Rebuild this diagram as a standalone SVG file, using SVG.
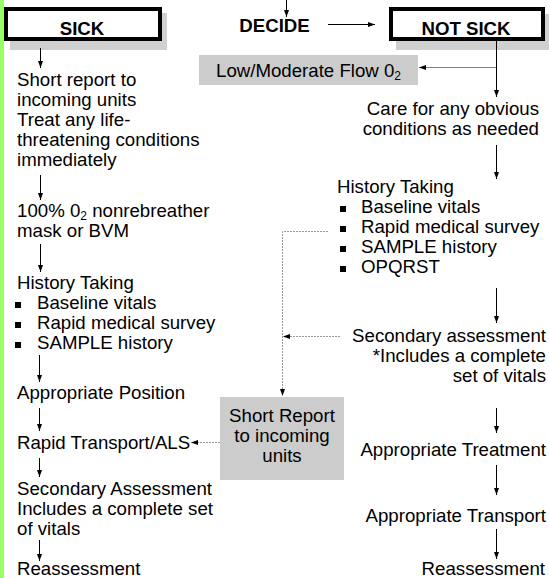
<svg xmlns="http://www.w3.org/2000/svg" width="549" height="578" viewBox="0 0 549 578">
<style>
text{font-family:"Liberation Sans",Arial,sans-serif;font-size:18.67px;fill:#000}
.b{font-weight:bold}
.m{text-anchor:middle}
.e{text-anchor:end}
.sub{font-size:12px}
.box{fill:#fff;stroke:#000;stroke-width:4}
.sh{fill:#d0d0d0}
.gb{fill:#cccccc}
.ln{stroke:#000;stroke-width:1;fill:none}
.gl{stroke:#808080;stroke-width:1;fill:none}
.dl{stroke:#999;stroke-width:1;stroke-dasharray:2 1;fill:none}
</style>
<defs>
<marker id="ah" viewBox="0 0 7 5" refX="7" refY="2.5" markerWidth="7" markerHeight="5" markerUnits="userSpaceOnUse" orient="auto"><path d="M0,0 L7,2.5 L0,5 z" fill="#000"/></marker>
</defs>
<rect x="0" y="0" width="4" height="578" fill="#99ff66"/>

<g id="sick">
<rect class="sh" x="10" y="13" width="157" height="37"/>
<rect class="box" x="6" y="9" width="154" height="30"/>
<text class="b m" x="82" y="35">SICK</text>
</g>
<g id="decide"><text class="b m" x="274.5" y="32">DECIDE</text></g>
<g id="notsick">
<rect class="sh" x="396" y="14" width="160" height="36"/>
<rect class="box" x="391" y="9" width="152" height="30"/>
<text class="b m" x="466" y="35">NOT SICK</text>
</g>
<g id="lowflow">
<rect class="gb" x="199" y="55" width="219" height="30"/>
<text x="216" y="77">Low/Moderate Flow 0<tspan class="sub" dy="3">2</tspan></text>
</g>

<g id="s1">
<text x="17" y="86">Short report to</text>
<text x="17" y="106">incoming units</text>
<text x="17" y="126">Treat any life-</text>
<text x="17" y="146">threatening conditions</text>
<text x="17" y="166">immediately</text>
</g>
<g id="s2">
<text x="17" y="217">100% 0<tspan class="sub" dy="3">2</tspan><tspan dy="-3"> nonrebreather</tspan></text>
<text x="17" y="237">mask or BVM</text>
</g>
<g id="s3">
<text x="17" y="289">History Taking</text>
<rect x="15" y="302" width="6" height="6"/><text x="37" y="309">Baseline vitals</text>
<rect x="15" y="322" width="6" height="6"/><text x="37" y="329">Rapid medical survey</text>
<rect x="15" y="342" width="6" height="6"/><text x="37" y="349">SAMPLE history</text>
</g>
<g id="s4"><text x="17" y="399">Appropriate Position</text></g>
<g id="s5"><text x="17" y="449">Rapid Transport/ALS</text></g>
<g id="s6">
<text x="17" y="495">Secondary Assessment</text>
<text x="17" y="515">Includes a complete set</text>
<text x="17" y="535">of vitals</text>
</g>
<g id="s7"><text x="17" y="575">Reassessment</text></g>

<g id="report">
<rect class="gb" x="220" y="397" width="124" height="83"/>
<text class="m" x="282" y="422">Short Report</text>
<text class="m" x="282" y="442">to incoming</text>
<text class="m" x="282" y="462">units</text>
</g>

<g id="n1">
<text class="e" x="539" y="115">Care for any obvious</text>
<text class="e" x="539" y="135">conditions as needed</text>
</g>
<g id="n2">
<text x="337" y="193">History Taking</text>
<rect x="340" y="206" width="6" height="6"/><text x="361" y="213">Baseline vitals</text>
<rect x="340" y="226" width="6" height="6"/><text x="361" y="233">Rapid medical survey</text>
<rect x="340" y="246" width="6" height="6"/><text x="361" y="253">SAMPLE history</text>
<rect x="340" y="266" width="6" height="6"/><text x="361" y="273">OPQRST</text>
</g>
<g id="n3">
<text class="e" x="546" y="342">Secondary assessment</text>
<text class="e" x="546" y="362">*Includes a complete</text>
<text class="e" x="546" y="382">set of vitals</text>
</g>
<g id="n4"><text class="e" x="546" y="456">Appropriate Treatment</text></g>
<g id="n5"><text class="e" x="546" y="522">Appropriate Transport</text></g>
<g id="n6"><text class="e" x="545" y="575">Reassessment</text></g>

<g id="connectors">
<path class="ln" d="M286.5,0 V17" marker-end="url(#ah)"/>
<path class="ln" d="M328,24.5 H375" marker-end="url(#ah)"/>
<path class="ln" d="M496.5,41 V97" marker-end="url(#ah)"/>
<path class="gl" d="M496,67.5 H419" marker-end="url(#ah)"/>
<path class="ln" d="M40.5,48 V68" marker-end="url(#ah)"/>
<path class="ln" d="M40.5,175 V200" marker-end="url(#ah)"/>
<path class="ln" d="M40.5,244 V272" marker-end="url(#ah)"/>
<path class="ln" d="M39.5,355 V382" marker-end="url(#ah)"/>
<path class="ln" d="M39.5,408 V431" marker-end="url(#ah)"/>
<path class="ln" d="M39.5,458 V477" marker-end="url(#ah)"/>
<path class="ln" d="M39.5,540 V561" marker-end="url(#ah)"/>
<path class="ln" d="M496.5,145 V179" marker-end="url(#ah)"/>
<path class="ln" d="M496.5,288 V323" marker-end="url(#ah)"/>
<path class="ln" d="M496.5,408 V433" marker-end="url(#ah)"/>
<path class="ln" d="M496.5,465 V495" marker-end="url(#ah)"/>
<path class="ln" d="M496.5,529 V559" marker-end="url(#ah)"/>
<path class="dl" d="M328,231.5 H282.5 V396" marker-end="url(#ah)"/>
<path class="dl" d="M340,336.5 H283" marker-end="url(#ah)"/>
<path class="dl" d="M220,442.5 H191" marker-end="url(#ah)"/>
</g>
</svg>
